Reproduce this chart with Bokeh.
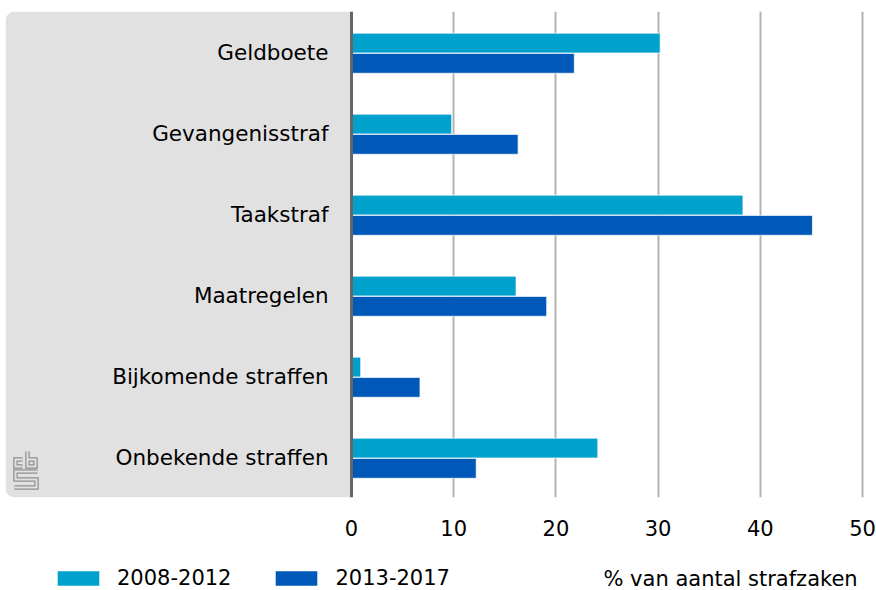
from bokeh.plotting import figure
from bokeh.layouts import column
from bokeh.models import (ColumnDataSource, Range1d, FixedTicker, Span, BoxAnnotation,
                          Legend, LegendItem, Label)
from bokeh.transform import dodge
from bokeh.core.properties import value
from bokeh.embed import file_html
from bokeh.resources import INLINE

categories = ["Geldboete", "Gevangenisstraf", "Taakstraf", "Maatregelen",
              "Bijkomende straffen", "Onbekende straffen"]
series_2008_2012 = [30.2, 9.8, 38.3, 16.1, 0.9, 24.1]
series_2013_2017 = [21.8, 16.3, 45.1, 19.1, 6.7, 12.2]
series_names = ["2008-2012", "2013-2017"]
x_ticks = [0, 10, 20, 30, 40, 50]
x_title = "% van aantal strafzaken"

FONT = "DejaVu Sans"
C1 = "#00a1cd"
C2 = "#0058b8"

W = 876
H1 = 548
H2 = 42
PX = 10.22            # pixels per x unit
ZERO_PX = 351         # page x of value 0
FRAME_L = 5
FRAME_R = 866
FRAME_T = 11
ROW_PX = 81

idx = list(range(len(categories)))
src = ColumnDataSource(dict(idx=idx, cat=categories,
                            a=series_2008_2012, b=series_2013_2017))

x0 = -(ZERO_PX - FRAME_L) / PX
x1 = (FRAME_R - ZERO_PX) / PX
frame_h = ROW_PX * len(categories)

p = figure(width=W, height=H1, output_backend="svg", toolbar_location=None,
           x_range=Range1d(x0, x1), y_range=Range1d(len(categories) - 0.5, -0.5),
           y_axis_location=None, min_border_left=FRAME_L, min_border_right=W - FRAME_R,
           min_border_top=FRAME_T, min_border_bottom=H1 - FRAME_T - frame_h,
           outline_line_color=None, background_fill_color="white",
           border_fill_color="white")

# grey label panel
panel = BoxAnnotation(left=x0, right=0, fill_color="#e1e1e1", fill_alpha=1.0,
                      line_color=None, border_radius=(9, 0, 0, 9), level="underlay")
p.add_layout(panel)

# grid
p.xgrid.ticker = FixedTicker(ticks=x_ticks[1:])
p.xgrid.grid_line_color = "#b3b3b3"
p.xgrid.grid_line_width = 2
p.ygrid.visible = False

r1 = p.hbar(y=dodge("idx", -0.11, range=p.y_range), right="a", left=0, height=0.245,
            source=src, fill_color=C1, line_color="white", line_width=1, line_alpha=0.7)
r2 = p.hbar(y=dodge("idx", 0.14, range=p.y_range), right="b", left=0, height=0.245,
            source=src, fill_color=C2, line_color="white", line_width=1, line_alpha=0.7)

# category labels
p.text(x=-2.25, y="idx", text="cat", source=src, text_align="right",
       text_baseline="middle", text_font=value(FONT), text_font_size="21.5px",
       text_color="#000000")

# vertical axis line
p.add_layout(Span(location=0, dimension="height", line_color="#666666", line_width=3))

# x axis
ax = p.xaxis[0]
ax.ticker = FixedTicker(ticks=x_ticks)
ax.axis_line_color = None
ax.major_tick_line_color = None
ax.minor_tick_line_color = None
ax.major_label_standoff = 16
ax.major_label_text_font = FONT
ax.major_label_text_font_size = "21px"
ax.major_label_text_color = "#000000"

# small cbs logo (decoration), defined in page pixels and mapped to data
def px_to_x(px):
    return (px - ZERO_PX) / PX

def py_to_y(py):
    return (py - FRAME_T - ROW_PX / 2) / ROW_PX

logo_paths = [
    [(22, 459), (15, 459), (15, 466), (22, 466)],
    [(27, 451), (27, 466), (35, 466), (35, 459), (27, 459)],
    [(37, 471), (15, 471), (15, 479), (36, 479), (36, 487), (14, 487)],
]
lx = [[px_to_x(a) for a, b in path] for path in logo_paths]
ly = [[py_to_y(b) for a, b in path] for path in logo_paths]
p.multi_line(xs=lx, ys=ly, line_color="#8f8f8f", line_width=4.5, line_join="miter")
p.multi_line(xs=lx, ys=ly, line_color="#e1e1e1", line_width=2, line_join="miter")

# ---- bottom strip: legend and x title ----
p2 = figure(width=W, height=H2, output_backend="svg", toolbar_location=None,
            x_range=Range1d(0, W), y_range=Range1d(0, H2),
            x_axis_location=None, y_axis_location=None,
            min_border_left=0, min_border_right=0, min_border_top=0, min_border_bottom=0,
            outline_line_color=None, background_fill_color="white",
            border_fill_color="white")
p2.grid.visible = False
# legend proxies placed outside the visible range
proxy = ColumnDataSource(dict(x=[-1000], y=[-1000]))
g1 = p2.rect(x="x", y="y", width=1, height=1, source=proxy, fill_color=C1, line_color=None)
g2 = p2.rect(x="x", y="y", width=1, height=1, source=proxy, fill_color=C2, line_color=None)

legend = Legend(items=[LegendItem(label=series_names[0], renderers=[g1]),
                       LegendItem(label=series_names[1], renderers=[g2])],
                orientation="horizontal", location=(47, 0),
                glyph_width=52, glyph_height=18, label_standoff=13, spacing=39,
                padding=0, margin=0, border_line_color=None,
                background_fill_alpha=0, label_text_font=FONT,
                label_text_font_size="21px", label_text_color="#000000")
p2.add_layout(legend)

p2.add_layout(Label(x=867, y=12, text=x_title, text_align="right",
                    text_baseline="middle", text_font=FONT, text_font_size="21px",
                    text_color="#000000"))

layout = column(p, p2, spacing=0)
open("out.html", "w").write(file_html(layout, INLINE))
